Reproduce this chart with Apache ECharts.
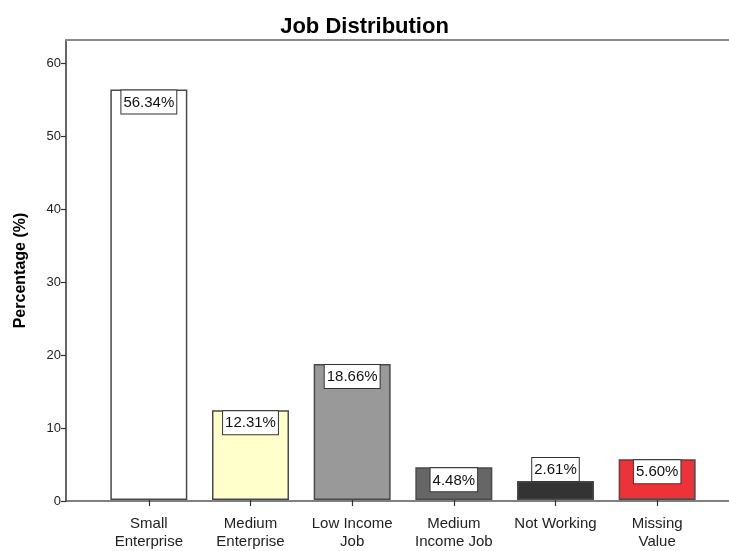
<!DOCTYPE html>
<html>
<head>
<meta charset="utf-8">
<title>Job Distribution</title>
<script src="https://cdn.jsdelivr.net/npm/echarts@6/dist/echarts.min.js"></script>
<style>
  html, body { margin: 0; padding: 0; background: #fff; }
  #chart { width: 729px; height: 551px; }
</style>
</head>
<body>
<div id="chart"></div>
<script>
// Job categories and their share of respondents (%)
const categories = ['Small\nEnterprise', 'Medium\nEnterprise', 'Low Income\nJob', 'Medium\nIncome Job', 'Not Working', 'Missing\nValue'];
const percentages = [56.34, 12.31, 18.66, 4.48, 2.61, 5.60];
const yTicks = [0, 10, 20, 30, 40, 50, 60];

// Fill colour for each bar
const barColors = ['#ffffff', '#ffffcc', '#999999', '#666666', '#333333', '#ee3338'];

const FONT = '"Liberation Sans", Arial, sans-serif';
const Y_MAX = 63.15;

const labelBox = {
  formatter: p => p.value.toFixed(2) + '%',
  color: '#111',
  fontFamily: FONT,
  fontSize: 15,
  lineHeight: 18,
  backgroundColor: '#fff',
  borderColor: '#333',
  borderWidth: 1,
  padding: [3, 2, 2, 2]
};

const barData = percentages.map((v, i) => ({
  value: v,
  itemStyle: { color: barColors[i] },
  // short bars carry their value box just above the bar
  label: v < 4 ? { position: 'top', distance: 0 } : { position: 'insideTop', distance: 1 }
}));

const chart = echarts.init(document.getElementById('chart'), null, { renderer: 'canvas' });
chart.setOption({
  animation: false,
  backgroundColor: '#fff',
  title: {
    text: 'Job Distribution',
    left: 'center',
    top: 11,
    textStyle: { fontFamily: FONT, fontSize: 22, fontWeight: 'bold', color: '#000' }
  },
  grid: [
    // outer frame with the percentage axis; runs past the right edge
    { left: 66, width: 700, top: 40, bottom: 50 },
    // band where the bars sit
    { left: 98, width: 610, top: 40, bottom: 50 }
  ],
  xAxis: [
    {
      gridIndex: 0, type: 'value', min: 0, max: 1, position: 'bottom',
      axisLine: { show: true, lineStyle: { color: '#555', width: 1.5 } },
      axisTick: { show: false }, axisLabel: { show: false }, splitLine: { show: false }
    },
    {
      gridIndex: 1, type: 'category', data: categories,
      axisLine: { show: false },
      axisTick: { show: true, alignWithLabel: true, length: 6, lineStyle: { color: '#333', width: 1.2 } },
      axisLabel: { fontFamily: FONT, fontSize: 15, lineHeight: 18, color: '#222', margin: 15, interval: 0 }
    },
    {
      gridIndex: 0, type: 'value', min: 0, max: 1, position: 'top',
      axisLine: { show: true, lineStyle: { color: '#8a8a8a', width: 2 } },
      axisTick: { show: false }, axisLabel: { show: false }, splitLine: { show: false }
    }
  ],
  yAxis: [
    {
      gridIndex: 0, type: 'value', min: 0, max: Y_MAX, interval: 10,
      name: 'Percentage (%)', nameLocation: 'middle', nameGap: 37,
      nameTextStyle: { fontFamily: FONT, fontSize: 16, fontWeight: 'bold', color: '#000' },
      axisLine: { show: true, lineStyle: { color: '#333', width: 1.5 } },
      axisTick: { show: true, length: 5, lineStyle: { color: '#333', width: 1.2 } },
      axisLabel: {
        fontFamily: FONT, fontSize: 13, color: '#222', margin: 5, showMaxLabel: false,
        formatter: v => (yTicks.indexOf(v) >= 0 ? String(v) : '')
      },
      splitLine: { show: false }
    },
    {
      gridIndex: 1, type: 'value', min: 0, max: Y_MAX, show: false,
      splitLine: { show: false }
    }
  ],
  series: [{
    type: 'bar',
    xAxisIndex: 1,
    yAxisIndex: 1,
    barWidth: 77,
    data: barData,
    itemStyle: { borderColor: '#4a4a4a', borderWidth: 1.5 },
    label: Object.assign({ show: true }, labelBox)
  }]
});
</script>
</body>
</html>
